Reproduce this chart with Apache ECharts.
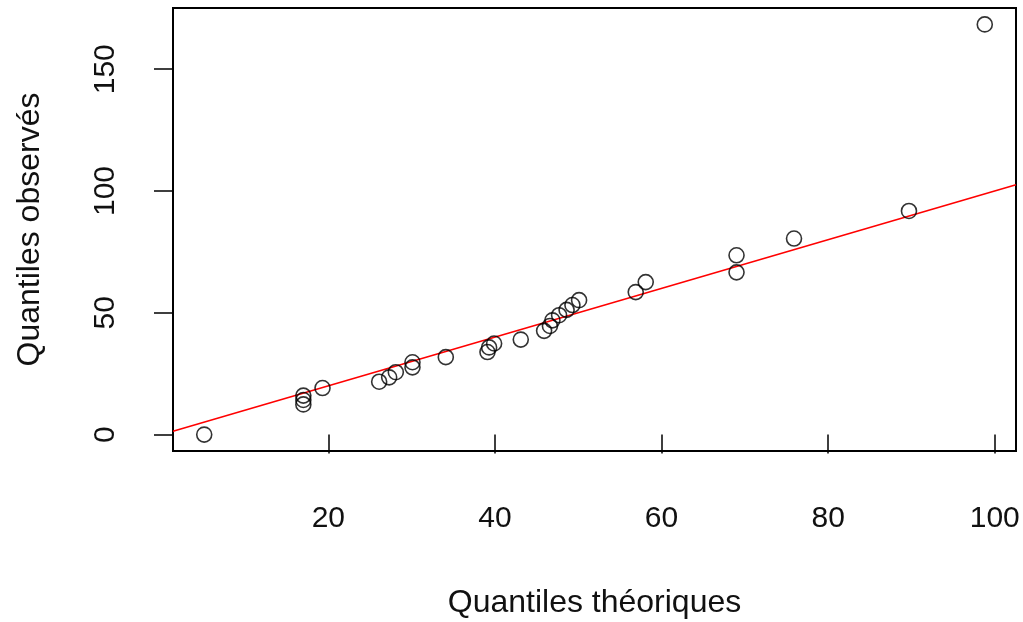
<!DOCTYPE html>
<html>
<head>
<meta charset="utf-8">
<script src="https://cdn.jsdelivr.net/npm/echarts@6/dist/echarts.min.js"></script>
<style>
  html, body { margin: 0; padding: 0; background: #ffffff; }
  #chart { width: 1023px; height: 622px; }
</style>
</head>
<body>
<div id="chart"></div>
<script>
// Q-Q plot: theoretical vs observed quantiles, with the y = x reference line
const theoretical = [5.1, 17.0, 17.0, 17.0, 19.3, 26.1, 27.3, 28.1, 30.1, 30.1,
                     34.1, 39.1, 39.3, 39.9, 43.1, 45.9, 46.6, 46.9, 47.7, 48.6,
                     49.3, 50.1, 56.9, 58.1, 69.0, 69.0, 75.9, 89.7, 98.8];
const observed    = [0.0, 16.0, 14.2, 12.4, 19.1, 21.7, 23.5, 25.6, 29.7, 27.6,
                     31.8, 33.9, 35.8, 37.4, 39.0, 42.6, 44.6, 46.9, 49.0, 51.2,
                     53.2, 55.2, 58.5, 62.6, 73.6, 66.6, 80.5, 91.8, 168.4];
const xTicks = [20, 40, 60, 80, 100];
const yTicks = [0, 50, 100, 150];
const refIntercept = 0;
const refSlope = 1;

// axis limits padded by 4% of the data range on each side
function padded(arr) {
  const lo = Math.min(...arr), hi = Math.max(...arr);
  const d = (hi - lo) * 0.04;
  return [lo - d, hi + d];
}
const [xMin, xMax] = padded(theoretical);
const [yMin, yMax] = padded(observed);

const points = theoretical.map((x, i) => [x, observed[i]]);
const refLine = [xMin, xMax].map(x => [x, refIntercept + refSlope * x]);

const font = '"Liberation Sans", Arial, sans-serif';
const chart = echarts.init(document.getElementById('chart'));
chart.setOption({
  animation: false,
  backgroundColor: '#ffffff',
  grid: {
    left: 173, right: 7, top: 8, bottom: 171,
    show: true, borderColor: '#000', borderWidth: 2,
    backgroundColor: 'transparent',
    containLabel: false, outerBoundsMode: 'none'
  },
  xAxis: {
    type: 'value', min: xMin, max: xMax,
    name: 'Quantiles théoriques', nameLocation: 'middle', nameGap: 136,
    nameTextStyle: { fontFamily: font, fontSize: 32, color: '#111' },
    axisLine: { show: false },
    axisTick: { show: true, length: 19, customValues: xTicks, lineStyle: { color: '#000', width: 1.5 } },
    axisLabel: { customValues: xTicks, margin: 53, fontFamily: font, fontSize: 30, color: '#111' },
    splitLine: { show: false }
  },
  yAxis: {
    type: 'value', min: yMin, max: yMax,
    name: 'Quantiles observés', nameLocation: 'middle', nameGap: 127,
    nameTextStyle: { fontFamily: font, fontSize: 32, color: '#111' },
    axisLine: { show: false },
    axisTick: { show: true, length: 19, customValues: yTicks, lineStyle: { color: '#000', width: 1.5 } },
    axisLabel: { customValues: yTicks, rotate: 90, margin: 52, fontFamily: font, fontSize: 30, color: '#111' },
    splitLine: { show: false }
  },
  series: [
    {
      type: 'line', data: refLine, showSymbol: false, clip: true, silent: true,
      lineStyle: { color: '#ff0000', width: 1.6 }, z: 1
    },
    {
      type: 'scatter', data: points, symbol: 'circle', symbolSize: 15,
      itemStyle: { color: 'rgba(0,0,0,0)', borderColor: '#000', borderWidth: 1.6 }, z: 2
    }
  ]
});
</script>
</body>
</html>
